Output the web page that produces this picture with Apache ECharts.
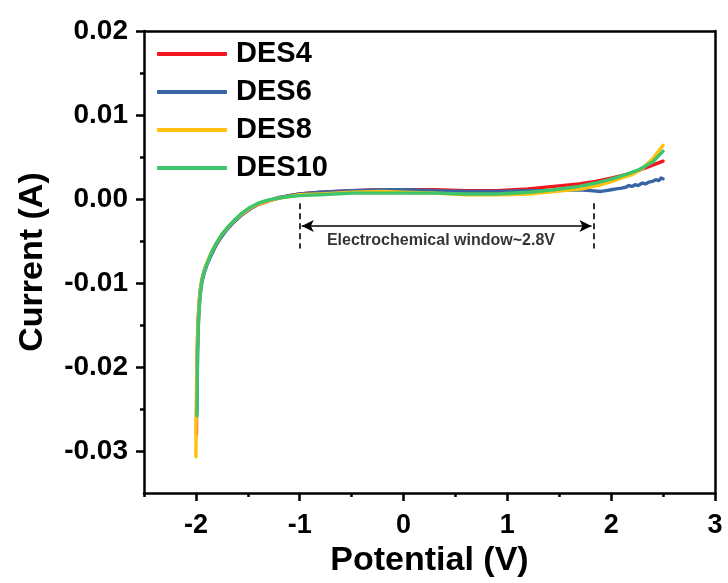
<!DOCTYPE html>
<html>
<head>
<meta charset="utf-8">
<script src="https://cdn.jsdelivr.net/npm/echarts@6/dist/echarts.min.js"></script>
<style>html,body{margin:0;padding:0;background:#fff;}#c{width:728px;height:583px;}</style>
</head>
<body>
<div id="c"></div>
<script>
const seriesNames = ['DES4', 'DES6', 'DES8', 'DES10'];
const seriesColors = ['#f2151d', '#3a65a5', '#ffc10e', '#3ec46b'];

const des4 = [[-1.995,-0.0280],[-1.993,-0.0240],[-1.990,-0.0200],[-1.984,-0.0165],[-1.976,-0.0138],[-1.966,-0.0118],[-1.952,-0.0103],[-1.932,-0.0091],[-1.905,-0.0080],[-1.870,-0.0070],[-1.830,-0.0060],[-1.790,-0.0051],[-1.740,-0.0042],[-1.680,-0.0033],[-1.610,-0.0024],[-1.550,-0.0018],[-1.470,-0.0011],[-1.390,-0.0006],[-1.290,-0.0002],[-1.200,0.0001],[-1.100,0.0004],[-1.000,0.0006],[-0.800,0.0008],[-0.500,0.0010],[-0.200,0.0011],[0.000,0.0011],[0.300,0.0011],[0.600,0.0010],[0.900,0.0010],[1.200,0.0012],[1.450,0.0015],[1.690,0.0018],[1.850,0.0021],[2.010,0.0025],[2.170,0.0030],[2.330,0.0037],[2.500,0.0045]];

const des6 = [[-1.990,-0.0253],[-1.988,-0.0220],[-1.984,-0.0185],[-1.978,-0.0155],[-1.970,-0.0132],[-1.958,-0.0113],[-1.942,-0.0099],[-1.920,-0.0088],[-1.890,-0.0077],[-1.850,-0.0066],[-1.810,-0.0056],[-1.760,-0.0046],[-1.700,-0.0036],[-1.630,-0.0027],[-1.560,-0.0019],[-1.480,-0.0012],[-1.400,-0.0006],[-1.300,-0.0002],[-1.200,0.0002],[-1.100,0.0004],[-1.000,0.0006],[-0.800,0.0008],[-0.500,0.0010],[-0.200,0.0011],[0.000,0.0011],[0.300,0.0010],[0.600,0.0009],[0.900,0.0009],[1.200,0.0010],[1.450,0.0010],[1.690,0.0011],[1.800,0.0010],[1.900,0.0009],[1.950,0.0010],[2.000,0.0011],[2.050,0.0012],[2.100,0.0013],[2.140,0.0014],[2.170,0.0016],[2.200,0.0015],[2.230,0.0017],[2.260,0.0016],[2.300,0.0019],[2.330,0.0018],[2.360,0.0020],[2.400,0.0021],[2.430,0.0023],[2.460,0.0022],[2.480,0.0025],[2.500,0.0024]];

const des8 = [[-2.000,-0.0307],[-1.998,-0.0260],[-1.994,-0.0220],[-1.988,-0.0180],[-1.980,-0.0148],[-1.970,-0.0125],[-1.958,-0.0108],[-1.942,-0.0095],[-1.918,-0.0084],[-1.885,-0.0073],[-1.845,-0.0062],[-1.805,-0.0053],[-1.755,-0.0043],[-1.695,-0.0034],[-1.625,-0.0025],[-1.560,-0.0018],[-1.480,-0.0011],[-1.400,-0.0006],[-1.300,-0.0002],[-1.200,0.0001],[-1.100,0.0003],[-1.000,0.0005],[-0.800,0.0006],[-0.500,0.0008],[-0.200,0.0009],[0.000,0.0008],[0.300,0.0007],[0.600,0.0005],[0.900,0.0005],[1.200,0.0006],[1.450,0.0009],[1.720,0.0012],[1.900,0.0017],[2.010,0.0021],[2.100,0.0025],[2.205,0.0029],[2.300,0.0036],[2.400,0.0048],[2.500,0.0064]];

const des10 = [[-1.990,-0.0258],[-1.988,-0.0220],[-1.984,-0.0180],[-1.976,-0.0145],[-1.966,-0.0125],[-1.955,-0.0108],[-1.940,-0.0095],[-1.915,-0.0084],[-1.880,-0.0073],[-1.840,-0.0061],[-1.800,-0.0052],[-1.750,-0.0042],[-1.690,-0.0033],[-1.620,-0.0024],[-1.560,-0.0017],[-1.480,-0.0010],[-1.400,-0.0005],[-1.300,-0.0001],[-1.200,0.0001],[-1.100,0.0003],[-1.000,0.0004],[-0.800,0.0005],[-0.500,0.0007],[-0.200,0.0007],[0.000,0.0007],[0.300,0.0007],[0.600,0.0006],[0.900,0.0006],[1.200,0.0008],[1.450,0.0011],[1.690,0.0015],[1.850,0.0019],[2.010,0.0024],[2.140,0.0029],[2.270,0.0035],[2.400,0.0044],[2.500,0.0057]];

const xMajorTicks = [-2, -1, 0, 1, 2, 3];
const xMinorTicks = [-2.5, -1.5, -0.5, 0.5, 1.5, 2.5];
const yMajorTicks = [-0.03, -0.02, -0.01, 0.00, 0.01, 0.02];
const yMinorTicks = [-0.025, -0.015, -0.005, 0.005, 0.015];

const windowStart = -1.0;
const windowEnd = 1.83;
const windowDashTop = -0.0005;
const windowDashBottom = -0.0059;
const windowArrowY = -0.0032;
const windowLabelPos = [0.36, -0.0050];
const windowLabel = 'Electrochemical window~2.8V';

const FONT = '"Liberation Sans", Arial, sans-serif';
const chart = echarts.init(document.getElementById('c'), null, {renderer: 'canvas'});

const axisLine = {show: true, onZero: false, lineStyle: {color: '#000', width: 2.5}};
const noLine = {show: false, onZero: false};
const seriesData = [des4, des6, des8, des10];

const option = {
  animation: false,
  backgroundColor: '#fff',
  grid: {left: 144, right: 13, top: 31, bottom: 90, containLabel: false},
  legend: {
    orient: 'vertical', left: 152, top: 34, itemGap: 8,
    itemWidth: 70, itemHeight: 4, icon: 'roundRect',
    data: seriesNames,
    textStyle: {fontFamily: FONT, fontWeight: 'bold', fontSize: 29, color: '#000', lineHeight: 30, padding: [0, 0, 0, 4]}
  },
  xAxis: [
    {
      type: 'value', min: -2.5, max: 3, interval: 0.5, position: 'bottom',
      name: 'Potential (V)', nameLocation: 'middle', nameGap: 48,
      nameTextStyle: {fontFamily: FONT, fontWeight: 'bold', fontSize: 34, color: '#000'},
      axisLine: axisLine,
      axisTick: {show: true, inside: false, length: 8, customValues: xMajorTicks, lineStyle: {color: '#000', width: 2.5}},
      axisLabel: {show: true, customValues: xMajorTicks, margin: 19, fontFamily: FONT, fontWeight: 'bold', fontSize: 27, color: '#000'},
      splitLine: {show: false}
    },
    {
      type: 'value', min: -2.5, max: 3, interval: 0.5, position: 'bottom',
      axisLine: noLine,
      axisTick: {show: true, length: 4, customValues: xMinorTicks, lineStyle: {color: '#000', width: 2.5}},
      axisLabel: {show: false}, splitLine: {show: false}
    },
    {
      type: 'value', min: -2.5, max: 3, position: 'top',
      axisLine: axisLine, axisTick: {show: false}, axisLabel: {show: false}, splitLine: {show: false}
    }
  ],
  yAxis: [
    {
      type: 'value', min: -0.035, max: 0.02, interval: 0.005, position: 'left',
      name: 'Current (A)', nameLocation: 'middle', nameGap: 94, nameRotate: 90,
      nameTextStyle: {fontFamily: FONT, fontWeight: 'bold', fontSize: 34, color: '#000'},
      axisLine: axisLine,
      axisTick: {show: true, length: 8, customValues: yMajorTicks, lineStyle: {color: '#000', width: 2.5}},
      axisLabel: {show: true, customValues: yMajorTicks, margin: 16, fontFamily: FONT, fontWeight: 'bold', fontSize: 28, color: '#000',
        formatter: v => (Math.round(v * 100) / 100).toFixed(2)},
      splitLine: {show: false}
    },
    {
      type: 'value', min: -0.035, max: 0.02, interval: 0.005, position: 'left',
      axisLine: noLine,
      axisTick: {show: true, length: 4, customValues: yMinorTicks, lineStyle: {color: '#000', width: 2.5}},
      axisLabel: {show: false}, splitLine: {show: false}
    },
    {
      type: 'value', min: -0.035, max: 0.02, position: 'right',
      axisLine: axisLine, axisTick: {show: false}, axisLabel: {show: false}, splitLine: {show: false}
    }
  ],
  series: seriesNames.map((name, i) => ({
    name: name, type: 'line', xAxisIndex: 0, yAxisIndex: 0,
    data: seriesData[i], showSymbol: false, symbol: 'none',
    lineStyle: {color: seriesColors[i], width: 3.4, cap: 'round', join: 'round'},
    itemStyle: {color: seriesColors[i]},
    z: 2 + i
  })).concat([{
    name: 'annotation', type: 'scatter', xAxisIndex: 0, yAxisIndex: 0,
    data: [windowLabelPos], symbolSize: 0, silent: true, z: 10,
    label: {show: true, position: 'inside', formatter: windowLabel, fontFamily: FONT, fontWeight: 'bold', fontSize: 16, color: '#000', textBorderWidth: 0},
    markLine: {
      silent: true, animation: false, label: {show: false},
      data: [
        [{coord: [windowStart, windowDashTop], symbol: 'none', lineStyle: {type: [6, 4], width: 1.6, color: '#000'}}, {coord: [windowStart, windowDashBottom], symbol: 'none'}],
        [{coord: [windowEnd, windowDashTop], symbol: 'none', lineStyle: {type: [6, 4], width: 1.6, color: '#000'}}, {coord: [windowEnd, windowDashBottom], symbol: 'none'}],
        [{coord: [windowStart + 0.02, windowArrowY], symbol: 'arrow', symbolSize: [9, 12], lineStyle: {type: 'solid', width: 1.6, color: '#000'}}, {coord: [windowEnd - 0.02, windowArrowY], symbol: 'arrow', symbolSize: [9, 12]}]
      ]
    }
  }])
};
chart.setOption(option);
</script>
</body>
</html>
